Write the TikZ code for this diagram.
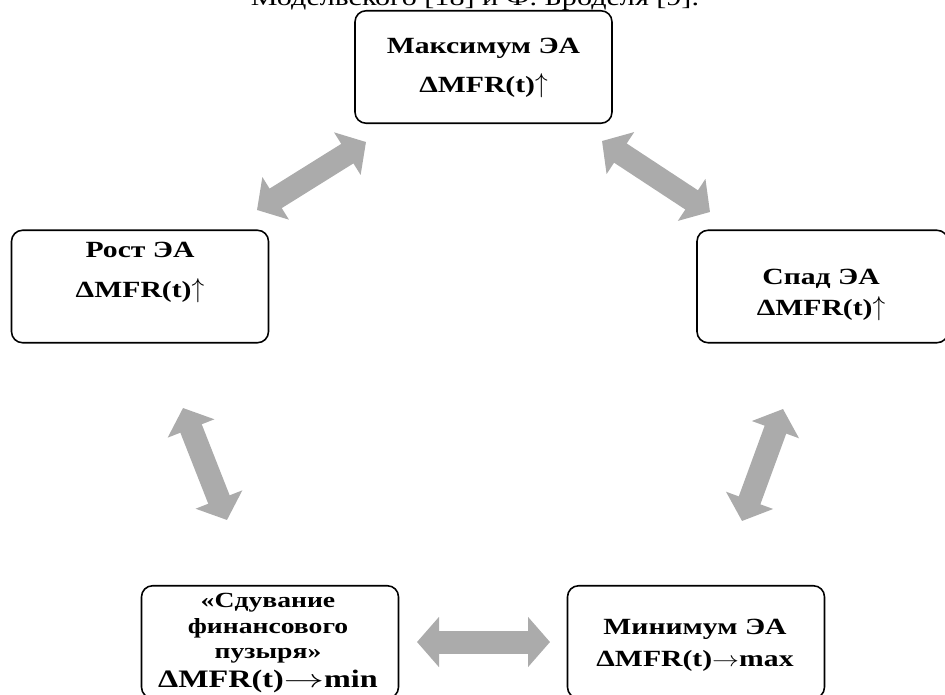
\documentclass[tikz,border=0pt]{standalone}
\usepackage{fontspec}
\usepackage{graphicx}
\setmainfont{Liberation Serif}[FakeStretch=1.28]
\usetikzlibrary{arrows.meta}
\definecolor{arrowgray}{HTML}{ABABAB}
\newcommand{\uparr}{\scalebox{1.2}[1.3]{$\uparrow$}}
\newcommand{\rightarr}{\scalebox{1.28}[1]{$\rightarrow$}}
\newcommand{\longrightarr}{\scalebox{1.6}[1]{$\rightarrow$}}

\begin{document}
\begin{tikzpicture}[x=0.02cm, y=-0.02cm,
		stage/.style={draw, line width=0.9pt, rounded corners=0.22cm, minimum width=5.14cm, minimum height=2.25cm, inner sep=0pt},
		stagetext/.style={font=\fontsize{13.2}{#1}\selectfont\bfseries, align=center, inner sep=0pt},
		cyclearrow/.style={draw=arrowgray, line width=0.46cm, {Triangle[width=0.98cm, length=0.44cm]}-{Triangle[width=0.98cm, length=0.44cm]}}]

	\useasboundingbox (0,0) rectangle (945,695);

	% caption line, cut at the top
	\node [font=\fontsize{13.4}{16}\selectfont, anchor=base] (caption) at (475,6) {Модельского [18] и Ф. Броделя [9].};

	% stages
	\node [stage] (maxbox) at (483.5,67) {};
	\node [stage] (rostbox) at (140,286.5) {};
	\node [stage, minimum width=5.02cm] (spadbox) at (822.5,286.5) {};
	\node [stage] (sduvbox) at (270,642) {};
	\node [stage] (minbox) at (696,642) {};

	\node [stagetext=22.1] (maxtxt) at (483.5,68) {Максимум ЭА\\ΔMFR(t)\uparr};
	\node [stagetext=23.2] (rosttxt) at (140,272.5) {Рост ЭА\\ΔMFR(t)\uparr};
	\node [stagetext=18.1] (spadtxt) at (821,295) {Спад ЭА\\ΔMFR(t)\uparr};
	\node [stagetext=18.1] (mintxt) at (695,645) {Минимум ЭА\\ΔMFR(t)\rightarr max};
	\node [stagetext=14.6, font=\fontsize{12.3}{14.6}\selectfont\bfseries] (sduvtxt) at (268,643) {«Сдувание\\финансового\\пузыря»\\[1.5pt]{\fontsize{14.3}{14.6}\selectfont ΔMFR(t)\longrightarr min}};

	% arrow ends
	\coordinate (rost-up) at (257,210);
	\coordinate (max-left) at (366,142);
	\coordinate (max-right) at (602,141);
	\coordinate (spad-up) at (710,212);
	\coordinate (rost-down) at (183,408);
	\coordinate (sduv-up) at (227,520);
	\coordinate (spad-down) at (783,409);
	\coordinate (min-up) at (742,521);
	\coordinate (sduv-right) at (417,642);
	\coordinate (min-left) at (550,642);

	% arrows
	\draw [cyclearrow] (rost-up) -- (max-left);
	\draw [cyclearrow] (max-right) -- (spad-up);
	\draw [cyclearrow] (rost-down) -- (sduv-up);
	\draw [cyclearrow] (spad-down) -- (min-up);
	\draw [cyclearrow] (sduv-right) -- (min-left);

\end{tikzpicture}
\end{document}
